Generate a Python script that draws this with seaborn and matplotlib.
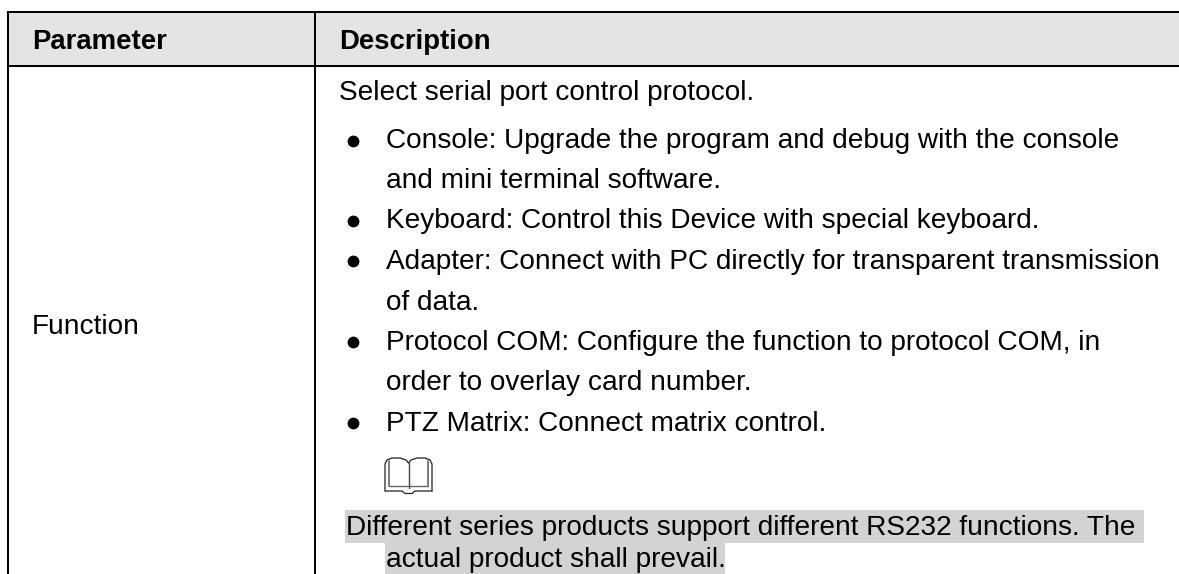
import matplotlib
matplotlib.use('Agg')
import matplotlib.pyplot as plt
import seaborn as sns

W, H = 1179, 574

sns.set_theme(style='white')
plt.rcParams['font.family'] = ['Liberation Sans', 'DejaVu Sans']

headers = ['Parameter', 'Description']
param_name = 'Function'
intro = 'Select serial port control protocol.'
body_lines = [
    'Console: Upgrade the program and debug with the console',
    'and mini terminal software.',
    'Keyboard: Control this Device with special keyboard.',
    'Adapter: Connect with PC directly for transparent transmission',
    'of data.',
    'Protocol COM: Configure the function to protocol COM, in',
    'order to overlay card number.',
    'PTZ Matrix: Connect matrix control.',
]
note_lines = [
    'Different series products support different RS232 functions. The',
    'actual product shall prevail.',
]

# baselines in picture pixels
body_y = [148, 188, 228, 269, 310, 350, 390, 431]
bullet_y = [141, 221, 261, 342, 423]
FS = 20.2
FS_BOLD = 19.85

fig = plt.figure(figsize=(W / 100, H / 100), dpi=100)
ax = fig.add_axes([0, 0, 1, 1])
ax.set_xlim(0, W)
ax.set_ylim(H, 0)
ax.axis('off')

# header band and note highlights
ax.fill_between([8, W], 12, 66, color='#e4e4e4', lw=0)
ax.fill_between([345, 1144], 510, 543, color='#d3d3d3', lw=0)
ax.fill_between([385, 725], 543, 574, color='#d3d3d3', lw=0)

# table rules
rule = dict(color='black', lw=1.45, solid_capstyle='butt')
ax.plot([7, W], [12, 12], **rule)
ax.plot([7, W], [66, 66], **rule)
ax.plot([8, 8], [11, H], **rule)
ax.plot([314.5, 314.5], [11, H], **rule)

ax.text(32, 49, headers[0], fontsize=FS_BOLD, fontweight='bold', color='black', va='baseline')
ax.text(339, 49, headers[1], fontsize=FS_BOLD, fontweight='bold', color='black', va='baseline')
ax.text(32, 334, param_name, fontsize=FS, color='black', va='baseline')
ax.text(339, 100, intro, fontsize=FS, color='black', va='baseline')

for txt, y in zip(body_lines, body_y):
    ax.text(386, y, txt, fontsize=FS, color='black', va='baseline')

sns.scatterplot(x=[353] * len(bullet_y), y=bullet_y, ax=ax, s=72, color='black', linewidth=0, legend=False)

# book icon
book = dict(color='#222222', lw=0.9)
ax.plot([385, 385, 387, 392, 400, 406, 408.5, 411, 417, 425, 430, 432, 432],
        [491, 464, 460, 458, 458, 460, 463, 460, 458, 458, 460, 464, 491], **book)
ax.plot([389, 389], [461, 486], color='#666666', lw=1.2)
ax.plot([428, 428], [461, 486], color='#666666', lw=1.2)
ax.plot([408.5, 408.5], [463, 488], color='#444444', lw=1.0)
ax.plot([385, 402, 405, 412, 415, 432], [491, 491, 493.5, 493.5, 491, 491], **book)
ax.plot([389, 408.5, 428], [486, 486, 486], color='#666666', lw=1.0)

ax.text(346, 535, note_lines[0], fontsize=FS, color='black', va='baseline')
ax.text(386, 567, note_lines[1], fontsize=FS, color='black', va='baseline')

fig.savefig('out.png', dpi=100)
